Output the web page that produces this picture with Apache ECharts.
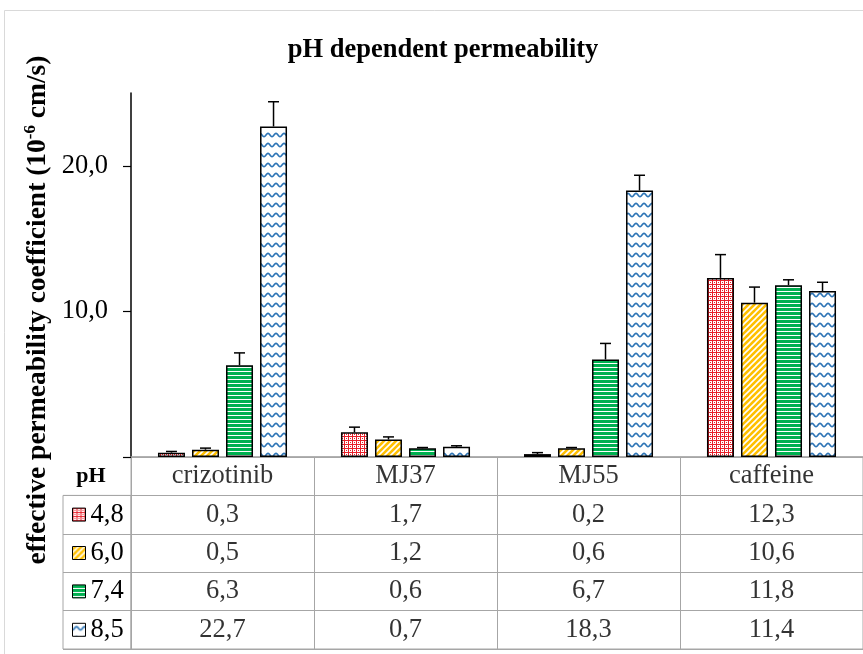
<!DOCTYPE html>
<html>
<head>
<meta charset="utf-8">
<script src="https://cdn.jsdelivr.net/npm/echarts@6/dist/echarts.min.js"></script>
<style>html,body{margin:0;padding:0;background:#fff}#c{width:863px;height:654px}</style>
</head>
<body>
<div id="c"></div>
<script>
// ---------- data ----------
const categories = ['crizotinib', 'MJ37', 'MJ55', 'caffeine'];
const phLabels = ['4,8', '6,0', '7,4', '8,5'];
const ph48 = [0.3, 1.7, 0.2, 12.3];
const ph60 = [0.5, 1.2, 0.6, 10.6];
const ph74 = [6.3, 0.6, 6.7, 11.8];
const ph85 = [22.7, 0.7, 18.3, 11.4];
const err48 = [0.08, 0.35, 0.1, 1.6];
const err60 = [0.11, 0.18, 0.05, 1.07];
const err74 = [0.85, 0.05, 1.1, 0.37];
const err85 = [1.7, 0.07, 1.05, 0.6];
const yTickValues = [0, 10, 20];
const yLabelValues = [10, 20];
const tableHeader = 'pH';
const titleText = 'pH dependent permeability';

const values = [ph48, ph60, ph74, ph85];
const errors = [err48, err60, err74, err85];
const tableRows = ['header'].concat(phLabels);

// ---------- styles ----------
const SERIF = 'Liberation Serif';
const GRAY = '#a6a6a6';
const BAR_W = 27;
const BAR_GAP = 0.26;
const TXT = 26.5;

function pattern(w, h, draw) {
  const c = document.createElement('canvas');
  c.width = w; c.height = h;
  const ctx = c.getContext('2d');
  draw(ctx, w, h);
  return { image: c, repeat: 'repeat' };
}
const pRed = pattern(4, 4, (ctx, w, h) => {
  ctx.fillStyle = '#ffffff'; ctx.fillRect(0, 0, w, h);
  ctx.fillStyle = '#E8202A';
  ctx.fillRect(0, 0, w, 1); ctx.fillRect(0, 0, 1, h); ctx.fillRect(2, 2, 1, 1);
});
const pYellow = pattern(6, 6, (ctx, w, h) => {
  ctx.fillStyle = '#FFC000'; ctx.fillRect(0, 0, w, h);
  ctx.strokeStyle = '#ffffff'; ctx.lineWidth = 1.6;
  ctx.beginPath();
  ctx.moveTo(0, 6); ctx.lineTo(6, 0);
  ctx.moveTo(-3, 3); ctx.lineTo(3, -3);
  ctx.moveTo(3, 9); ctx.lineTo(9, 3);
  ctx.stroke();
});
const pGreen = pattern(4, 4, (ctx, w, h) => {
  ctx.fillStyle = '#00B050'; ctx.fillRect(0, 0, w, h);
  ctx.fillStyle = '#ffffff'; ctx.fillRect(0, 3, w, 1);
});
const pBlue = pattern(8, 10, (ctx, w, h) => {
  ctx.fillStyle = '#ffffff'; ctx.fillRect(0, 0, w, h);
  ctx.strokeStyle = '#2E75B6'; ctx.lineWidth = 1.6;
  ctx.beginPath();
  for (let x = -1; x <= 9; x += 0.5) {
    const y = 5 + 1.6 * Math.cos(2 * Math.PI * x / 8);
    if (x === -1) ctx.moveTo(x, y); else ctx.lineTo(x, y);
  }
  ctx.stroke();
});
const fills = [pRed, pYellow, pGreen, pBlue];

const fmt = v => v.toFixed(1).replace('.', ',');

// ---------- series ----------
const barSeries = phLabels.map((name, si) => ({
  name: name,
  type: 'bar',
  xAxisIndex: 0, yAxisIndex: 0,
  data: values[si],
  barWidth: BAR_W,
  barGap: (BAR_GAP * 100) + '%',
  itemStyle: { color: fills[si], borderColor: '#000', borderWidth: 1.5 },
  z: 2
}));

const errData = [];
values.forEach((arr, si) => arr.forEach((v, ci) => errData.push([ci, v, errors[si][ci], si])));

const errSeries = {
  type: 'custom',
  name: 'err',
  xAxisIndex: 0, yAxisIndex: 0,
  data: errData,
  z: 5,
  renderItem: function (params, api) {
    const ci = api.value(0), v = api.value(1), e = api.value(2), si = api.value(3);
    const n = values.length;
    const step = BAR_W * (1 + BAR_GAP);
    const off = (si - (n - 1) / 2) * step;
    const b = api.coord([ci, v]);
    const t = api.coord([ci, v + e]);
    const x = b[0] + off;
    return {
      type: 'group',
      children: [
        { type: 'line', shape: { x1: x, y1: b[1], x2: x, y2: t[1] }, style: { stroke: '#000', lineWidth: 1.5 } },
        { type: 'line', shape: { x1: x - 5.5, y1: t[1], x2: x + 5.5, y2: t[1] }, style: { stroke: '#000', lineWidth: 1.5 } }
      ]
    };
  }
};

const tableData = [];
categories.forEach((c, ci) => {
  tableData.push([ci, 0, c]);
  values.forEach((arr, si) => tableData.push([ci, si + 1, fmt(arr[ci])]));
});
const tableSeries = {
  type: 'scatter',
  name: 'table',
  xAxisIndex: 1, yAxisIndex: 1,
  data: tableData,
  symbolSize: 1,
  itemStyle: { color: 'transparent' },
  label: {
    show: true, position: 'inside',
    formatter: p => p.value[2],
    fontFamily: SERIF, fontSize: TXT, color: '#000'
  },
  silent: true
};

const chart = echarts.init(document.getElementById('c'), null, { renderer: 'canvas' });
chart.setOption({
  animation: false,
  backgroundColor: '#fff',
  title: {
    text: titleText,
    left: 438, top: 32, textAlign: 'center',
    textStyle: { fontFamily: SERIF, fontSize: 26.5, fontWeight: 'bold', color: '#000' }
  },
  legend: {
    data: phLabels,
    orient: 'vertical',
    left: 72, top: 495.4,
    padding: 0,
    itemGap: 0,
    itemWidth: 13, itemHeight: 13,
    icon: 'rect',
    itemStyle: { borderColor: '#000', borderWidth: 1 },
    textStyle: { fontFamily: SERIF, fontSize: TXT, color: '#000', lineHeight: 38.4 },
    selectedMode: false
  },
  grid: [
    { left: 131, top: 93, width: 740, height: 364 },
    { left: 131, top: 457, width: 740, height: 192, show: true, borderColor: GRAY, borderWidth: 1 },
    { left: 63, top: 495.4, width: 68, height: 153.6, show: true, borderColor: GRAY, borderWidth: 1 }
  ],
  xAxis: [
    { type: 'category', gridIndex: 0, data: categories,
      axisLine: { lineStyle: { color: GRAY, width: 1.5 } },
      axisTick: { show: false }, axisLabel: { show: false } },
    { type: 'category', gridIndex: 1, data: categories,
      axisLine: { show: false }, axisTick: { show: false }, axisLabel: { show: false },
      splitLine: { show: true, interval: 0, lineStyle: { color: GRAY, width: 1 } } },
    { type: 'value', gridIndex: 2, show: false, min: 0, max: 1 }
  ],
  yAxis: [
    { type: 'value', gridIndex: 0, min: 0, max: 25, interval: 10,
      axisLine: { show: true, lineStyle: { color: '#000', width: 1.5 } },
      axisTick: { show: true, length: 8, lineStyle: { color: '#000', width: 1.2 }, customValues: yTickValues },
      axisLabel: { margin: 23, fontFamily: SERIF, fontSize: TXT, color: '#000',
        customValues: yLabelValues, formatter: v => fmt(v) },
      splitLine: { show: false } },
    { type: 'category', gridIndex: 1, data: tableRows, inverse: true,
      axisLine: { show: false }, axisTick: { show: false }, axisLabel: { show: false },
      splitLine: { show: true, interval: 0, lineStyle: { color: GRAY, width: 1 } } },
    { type: 'category', gridIndex: 2, data: phLabels, inverse: true,
      axisLine: { show: false }, axisTick: { show: false }, axisLabel: { show: false },
      splitLine: { show: true, interval: 0, lineStyle: { color: GRAY, width: 1 } } }
  ],
  graphic: [
    { type: 'rect', shape: { x: 4.5, y: 10.5, width: 900, height: 700 },
      style: { fill: null, stroke: '#d9d9d9', lineWidth: 1 }, z: -10, silent: true },
    { type: 'text', x: 37, y: 310, rotation: Math.PI / 2, z: 10,
      style: {
        text: '{b|effective permeability coefficient (10}{s|-6}{b| cm/s)}',
        align: 'center', verticalAlign: 'middle', textAlign: 'center', textVerticalAlign: 'middle',
        fill: '#000',
        rich: {
          b: { fontFamily: SERIF, fontSize: 27.5, fontWeight: 'bold', lineHeight: 30, verticalAlign: 'bottom', fill: '#000' },
          s: { fontFamily: SERIF, fontSize: 17, fontWeight: 'bold', lineHeight: 18, verticalAlign: 'top', fill: '#000' }
        }
      } },
    { type: 'text', x: 91, y: 476, z: 10,
      style: { text: tableHeader, fontFamily: SERIF, fontSize: 22, fontWeight: 'bold', fill: '#000',
        align: 'center', verticalAlign: 'middle', textAlign: 'center', textVerticalAlign: 'middle' } }
  ],
  series: barSeries.concat([errSeries, tableSeries])
});
</script>
</body>
</html>
